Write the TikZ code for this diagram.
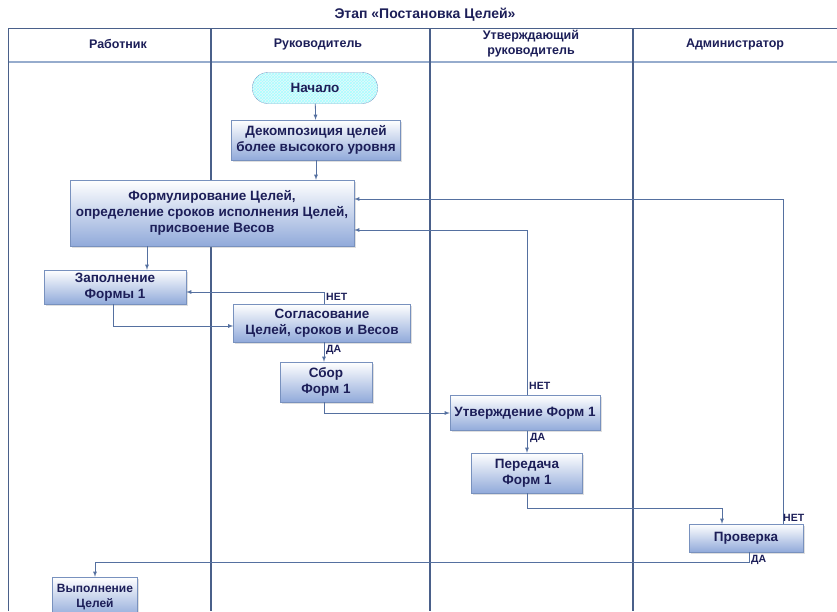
\documentclass[tikz,border=0pt]{standalone}
\usepackage{fontspec}
\setmainfont{Liberation Sans}
\usetikzlibrary{shapes.misc,shadows,patterns}
\tikzset{>=latex}
\definecolor{lane}{RGB}{74,96,138}
\definecolor{headline}{RGB}{150,172,205}
\definecolor{boxline}{RGB}{120,145,190}
\definecolor{boxblue}{RGB}{145,170,218}
\definecolor{flowline}{RGB}{85,112,160}
\definecolor{ink}{RGB}{28,30,88}
\definecolor{startfill}{RGB}{232,246,250}
\tikzset{
  proc/.style = {
    draw=boxline, top color=white, bottom color=boxblue, text=ink,
    font=\bfseries\fontsize{13.5}{16}\selectfont, align=center, inner sep=1pt,
    drop shadow={opacity=0.25, shadow xshift=1.5pt, shadow yshift=-1.5pt}
  },
  flow/.style = {->, draw=flowline, line width=0.8pt},
  answer/.style = {anchor=west, inner sep=1pt, text=ink,
    font=\bfseries\fontsize{10.5}{12}\selectfont},
  lanehead/.style = {align=center, text=ink,
    font=\bfseries\fontsize{12.5}{15}\selectfont}
}

\begin{document}
\begin{tikzpicture}[x=1pt,y=-1pt]
  \useasboundingbox (0,0) rectangle (837,611);
  % pool and lanes
  \draw[headline,line width=1.2pt] (8,62) -- (837,62);
  \draw[lane,line width=1pt] (8,611) -- (8,28) -- (837,28);
  \foreach \x in {211,430,633}
    \draw[lane,line width=1.2pt] (\x,28) -- (\x,611);
  \node[text=ink,font=\bfseries\fontsize{14}{16}\selectfont] (title) at (425,15) {Этап «Постановка Целей»};
  \node[lanehead] (h1) at (118,44) {Работник};
  \node[lanehead] (h2) at (318,44) {Руководитель};
  \node[lanehead] (h3) at (531,44) {Утверждающий\\руководитель};
  \node[lanehead] (h4) at (735,44) {Администратор};

  % steps
  \node[rounded rectangle, draw=boxline, fill=startfill,
        postaction={pattern=crosshatch, pattern color=cyan!35},
        minimum width=132pt, minimum height=31pt, text=ink,
        font=\bfseries\fontsize{13.5}{16}\selectfont] (nach) at (315,88) {Начало};
  \node[proc, minimum width=169pt, minimum height=40pt] (dek) at (316,140) {Декомпозиция целей\\более высокого уровня};
  \node[proc, minimum width=284pt, minimum height=66pt] (form) at (212,213) {Формулирование Целей,\\определение сроков исполнения Целей,\\присвоение Весов};
  \node[proc, minimum width=142pt, minimum height=34pt] (zap) at (115,287) {Заполнение\\Формы 1};
  \node[proc, minimum width=177pt, minimum height=38pt] (sog) at (322,323) {Согласование\\Целей, сроков и Весов};
  \node[proc, minimum width=92pt, minimum height=40pt] (sbor) at (326,382) {Сбор\\Форм 1};
  \node[proc, minimum width=150pt, minimum height=35pt] (utv) at (525,413) {Утверждение Форм 1};
  \node[proc, minimum width=111pt, minimum height=40pt] (per) at (527,473) {Передача\\Форм 1};
  \node[proc, minimum width=114pt, minimum height=28pt] (prov) at (746,538) {Проверка};
  \node[proc, minimum width=85pt, minimum height=40pt,
        font=\bfseries\fontsize{12}{15}\selectfont] (vyp) at (95,597) {Выполнение\\Целей};

  % flows
  \draw[flow] (nach) -- (dek);
  \draw[flow] (dek) -- (dek |- form.north);
  \draw[flow] ([xshift=-65pt]form.south) -- ([xshift=-65pt]form.south |- zap.north);
  \draw[flow] ([xshift=-2pt]zap.south) |- ([yshift=-3pt]sog.west);
  \draw[flow] ([xshift=2pt]sog.north) |- ([yshift=-5pt]zap.east);
  \draw[flow] ([xshift=2pt]sog.south) -- ([xshift=2pt]sog.south |- sbor.north);
  \draw[flow] ([xshift=-2pt]sbor.south) |- (utv.west);
  \draw[flow] ([xshift=2pt]utv.north) |- ([yshift=-17pt]form.east);
  \draw[flow] ([xshift=2pt]utv.south) -- ([xshift=2pt]utv.south |- per.north);
  \coordinate (p1) at ([yshift=-15pt]per.south);
  \draw[flow] (per.south) -- (p1) -| ([xshift=-24pt]prov.north);
  \draw[flow] ([xshift=37pt]prov.north) |- ([yshift=14pt]form.east);
  \coordinate (p2) at ([xshift=3pt,yshift=-10pt]prov.south);
  \draw[flow] ([xshift=3pt]prov.south) -- (p2) -| (vyp.north);

  % answers
  \node[answer] (net1) at (325,297) {НЕТ};
  \node[answer] (da1) at (325,350) {ДА};
  \node[answer] (net2) at (528,386) {НЕТ};
  \node[answer] (da2) at (529,438) {ДА};
  \node[answer] (net3) at (782,518) {НЕТ};
  \node[answer] (da3) at (750,560) {ДА};
\end{tikzpicture}
\end{document}
